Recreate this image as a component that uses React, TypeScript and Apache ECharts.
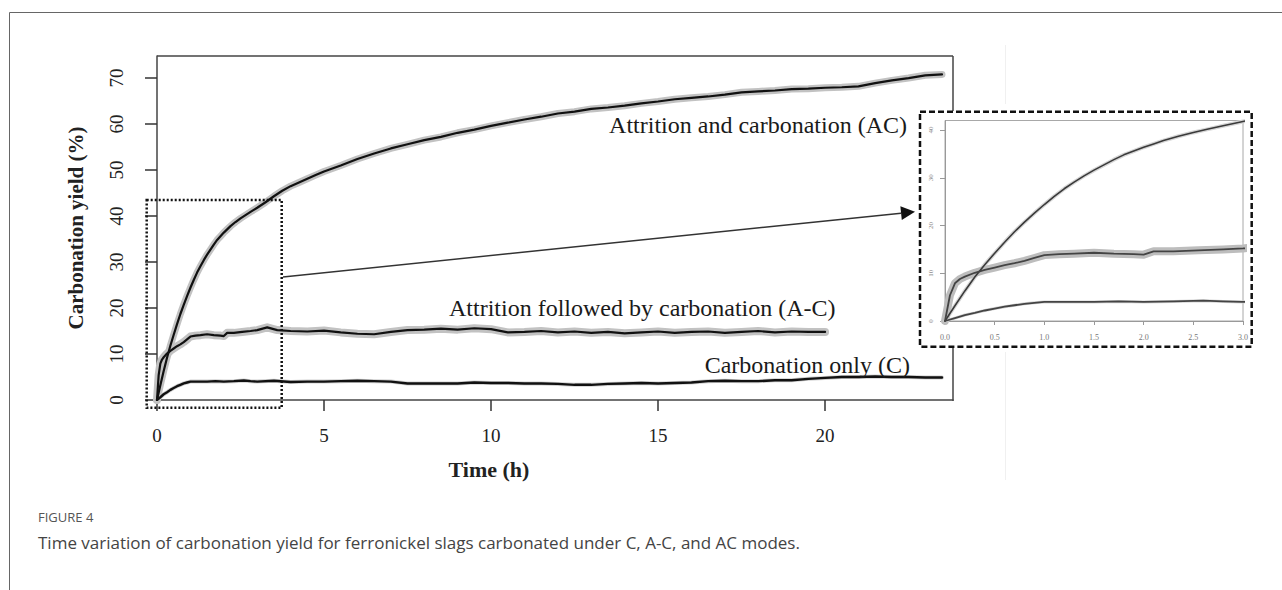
import React, { useEffect, useRef } from "react";
import * as echarts from "echarts";

// ---- Data ----
const acTime = [0, 0.1, 0.2, 0.3, 0.4, 0.5, 0.6, 0.7, 0.8, 0.9, 1.0, 1.1, 1.2, 1.3, 1.4, 1.5, 1.6, 1.7, 1.8, 1.9, 2.0, 2.1, 2.2, 2.35, 2.5, 2.65, 2.8, 3.0, 3.25, 3.5, 3.75, 4.0, 4.25, 4.5, 4.75, 5.0, 5.5, 6.0, 6.5, 7.0, 7.5, 8.0, 8.5, 9.0, 9.5, 10.0, 10.5, 11.0, 11.5, 12.0, 12.5, 13.0, 13.5, 14.0, 14.5, 15.0, 15.5, 16.0, 16.5, 17.0, 17.5, 18.0, 18.5, 19.0, 19.5, 20.0, 20.5, 21.0, 21.5, 22.0, 22.5, 23.0, 23.5];
const acYield = [0, 3.2, 6.3, 9.2, 11.8, 14.2, 16.5, 18.7, 20.7, 22.6, 24.4, 26.1, 27.7, 29.1, 30.4, 31.6, 32.7, 33.8, 34.8, 35.6, 36.4, 37.1, 37.8, 38.7, 39.5, 40.2, 40.9, 41.8, 43.0, 44.3, 45.5, 46.5, 47.3, 48.1, 48.9, 49.7, 51.0, 52.4, 53.6, 54.7, 55.6, 56.5, 57.2, 58.1, 58.8, 59.6, 60.3, 61.0, 61.6, 62.3, 62.7, 63.3, 63.6, 64.0, 64.5, 64.9, 65.4, 65.7, 66.0, 66.4, 66.9, 67.1, 67.3, 67.6, 67.7, 67.9, 68.0, 68.2, 68.9, 69.5, 70.0, 70.6, 70.8];

const acThenTime = [0, 0.05, 0.1, 0.15, 0.2, 0.3, 0.4, 0.5, 0.6, 0.7, 0.8, 0.9, 1.0, 1.15, 1.3, 1.5, 1.7, 1.9, 2.0, 2.1, 2.3, 2.55, 2.8, 3.0, 3.3, 3.6, 4.0, 4.5, 5.0, 5.5, 6.0, 6.5, 7.0, 7.5, 8.0, 8.5, 9.0, 9.5, 10.0, 10.5, 11.0, 11.5, 12.0, 12.5, 13.0, 13.5, 14.0, 14.5, 15.0, 15.5, 16.0, 16.5, 17.0, 17.5, 18.0, 18.5, 19.0, 19.5, 20.0];
const acThenYield = [0, 5.4, 7.9, 8.8, 9.3, 10.1, 10.7, 11.2, 11.7, 12.1, 12.6, 13.2, 13.8, 14.0, 14.1, 14.3, 14.1, 14.0, 13.9, 14.6, 14.6, 14.8, 15.0, 15.2, 15.8, 15.2, 15.0, 14.9, 15.1, 14.7, 14.4, 14.3, 14.8, 15.2, 15.3, 15.5, 15.3, 15.6, 15.4, 14.7, 14.8, 15.0, 14.7, 14.9, 14.6, 14.8, 14.5, 14.7, 14.9, 14.6, 14.8, 14.9, 14.6, 14.8, 15.0, 14.7, 14.9, 14.8, 14.8];

const cTime = [0, 0.1, 0.2, 0.3, 0.4, 0.5, 0.6, 0.7, 0.8, 0.9, 1.0, 1.25, 1.5, 1.75, 2.0, 2.3, 2.6, 2.8, 3.0, 3.5, 4.0, 4.5, 5.0, 5.5, 6.0, 6.5, 7.0, 7.5, 8.0, 8.5, 9.0, 9.5, 10.0, 10.5, 11.0, 11.5, 12.0, 12.5, 13.0, 13.5, 14.0, 14.5, 15.0, 15.5, 16.0, 16.5, 17.0, 17.5, 18.0, 18.5, 19.0, 19.5, 20.0, 20.5, 21.0, 21.5, 22.0, 22.5, 23.0, 23.5];
const cYield = [0, 0.6, 1.25, 1.7, 2.2, 2.6, 3.0, 3.3, 3.6, 3.8, 4.0, 4.0, 4.0, 4.1, 4.0, 4.1, 4.25, 4.1, 4.0, 4.2, 3.9, 4.0, 4.0, 4.1, 4.2, 4.1, 4.0, 3.6, 3.6, 3.6, 3.6, 3.8, 3.7, 3.7, 3.6, 3.6, 3.5, 3.3, 3.3, 3.5, 3.6, 3.7, 3.6, 3.7, 3.8, 4.1, 4.2, 4.1, 4.1, 4.3, 4.3, 4.6, 4.8, 5.0, 5.0, 5.1, 5.0, 5.0, 4.9, 4.9];

const mainXTicks = [0, 5, 10, 15, 20];
const mainYTicks = [0, 10, 20, 30, 40, 50, 60, 70];
const insetXTicks = [0, 0.5, 1.0, 1.5, 2.0, 2.5, 3.0];
const insetYTicks = [0, 10, 20, 30, 40];

const seriesLabels = ["Attrition and carbonation (AC)", "Attrition followed by carbonation (A-C)", "Carbonation only (C)"];
const xTitle = "Time (h)";
const yTitle = "Carbonation yield (%)";
const figureLabel = "FIGURE 4";
const captionText = "Time variation of carbonation yield for ferronickel slags carbonated under C, A-C, and AC modes.";

const pairs = (t: number[], v: number[]) => t.map((x, i) => [x, v[i]]);

export default function App() {
  const ref = useRef<HTMLDivElement>(null);
  useEffect(() => {
    if (!ref.current) return;
    const chart = echarts.init(ref.current, null, { renderer: "svg" });
    const serif = "'Liberation Serif', 'Times New Roman', serif";
    const sans = "'Open Sans', 'Noto Sans', sans-serif";
    const ac = pairs(acTime, acYield);
    const act = pairs(acThenTime, acThenYield);
    const c = pairs(cTime, cYield);

    const line = (data: number[][], g: number, color: string, width: number, z: number) => ({
      type: "line",
      data,
      xAxisIndex: g,
      yAxisIndex: g,
      symbol: "none",
      showSymbol: false,
      silent: true,
      clip: true,
      z,
      lineStyle: { color, width, join: "round", cap: "round" },
    });

    const arrowStart = [283, 277];
    const tip = [915, 211.7];
    const dx = tip[0] - arrowStart[0];
    const dy = tip[1] - arrowStart[1];
    const len = Math.sqrt(dx * dx + dy * dy);
    const ux = dx / len, uy = dy / len;
    const hl = 14, hw = 7;
    const bx = tip[0] - ux * hl, by = tip[1] - uy * hl;

    chart.setOption({
      animation: false,
      backgroundColor: "#ffffff",
      grid: [
        { left: 157, top: 56, width: 796, height: 344, show: false },
        { left: 945, top: 120.5, width: 298, height: 200.5, show: true, borderColor: "#a8a8a8", borderWidth: 1, backgroundColor: "transparent" },
      ],
      xAxis: [
        {
          type: "value", gridIndex: 0, min: 0, max: 23.83,
          axisLine: { show: true, lineStyle: { color: "#444", width: 1.5 } },
          axisTick: { show: true, inside: false, length: 11, customValues: mainXTicks, lineStyle: { color: "#333", width: 1.5 } },
          axisLabel: { customValues: mainXTicks, margin: 26, fontFamily: serif, fontSize: 19, color: "#222" },
          splitLine: { show: false },
          name: xTitle, nameLocation: "middle", nameGap: 58,
          nameTextStyle: { fontFamily: serif, fontSize: 22, fontWeight: "bold", color: "#222", padding: [0, 132, 0, 0] },
        },
        {
          type: "value", gridIndex: 1, min: 0, max: 3,
          axisLine: { show: true, lineStyle: { color: "#999", width: 1 } },
          axisTick: { show: true, inside: false, length: 4, customValues: insetXTicks, lineStyle: { color: "#999", width: 1 } },
          axisLabel: { customValues: insetXTicks, margin: 12, fontFamily: serif, fontSize: 8, color: "#777", formatter: (v: number) => v.toFixed(1) },
          splitLine: { show: false },
        },
      ],
      yAxis: [
        {
          type: "value", gridIndex: 0, min: 0, max: 74.8,
          axisLine: { show: true, lineStyle: { color: "#444", width: 1.5 } },
          axisTick: { show: true, inside: false, length: 12, customValues: mainYTicks, lineStyle: { color: "#333", width: 1.5 } },
          axisLabel: { customValues: mainYTicks, rotate: 90, margin: 31, fontFamily: serif, fontSize: 19, color: "#222" },
          splitLine: { show: false },
          name: yTitle, nameLocation: "middle", nameGap: 71, nameRotate: 90,
          nameTextStyle: { fontFamily: serif, fontSize: 21, fontWeight: "bold", color: "#222" },
        },
        {
          type: "value", gridIndex: 1, min: 0, max: 42,
          axisLine: { show: true, lineStyle: { color: "#999", width: 1 } },
          axisTick: { show: true, inside: false, length: 5, customValues: insetYTicks, lineStyle: { color: "#999", width: 1 } },
          axisLabel: { customValues: insetYTicks, rotate: 90, margin: 11, fontFamily: serif, fontSize: 7, color: "#888" },
          splitLine: { show: false },
        },
      ],
      series: [
        line(ac, 0, "#c2c2c2", 7, 2),
        line(act, 0, "#c2c2c2", 8, 2),
        line(c, 0, "#d0d0d0", 4, 2),
        line(ac, 0, "#111111", 2.2, 3),
        line(act, 0, "#111111", 2.2, 3),
        line(c, 0, "#111111", 2.4, 3),
        line(ac, 1, "#d6d6d6", 4, 2),
        line(act, 1, "#bdbdbd", 8, 2),
        line(c, 1, "#d4d4d4", 3, 2),
        line(ac, 1, "#3a3a3a", 1.6, 3),
        line(act, 1, "#444444", 1.8, 3),
        line(c, 1, "#444444", 1.8, 3),
      ],
      graphic: [
        // outer figure frame
        { type: "polyline", silent: true, shape: { points: [[9.5, 590], [9.5, 12.5], [1282, 12.5]] }, style: { stroke: "#666", lineWidth: 1, fill: "none" } },
        // faint scan artifacts
        { type: "line", silent: true, shape: { x1: 1005.5, y1: 45, x2: 1005.5, y2: 104 }, style: { stroke: "#f0f0f0", lineWidth: 1 } },
        { type: "line", silent: true, shape: { x1: 1005.5, y1: 352, x2: 1005.5, y2: 480 }, style: { stroke: "#f0f0f0", lineWidth: 1 } },
        // main box top and right edges
        { type: "line", silent: true, shape: { x1: 157, y1: 56, x2: 953, y2: 56 }, style: { stroke: "#444", lineWidth: 1.5 } },
        { type: "line", silent: true, shape: { x1: 953, y1: 56, x2: 953, y2: 111 }, style: { stroke: "#444", lineWidth: 1.5 } },
        { type: "line", silent: true, shape: { x1: 953, y1: 347, x2: 953, y2: 401 }, style: { stroke: "#444", lineWidth: 1.5 } },
        // dotted zoom rectangle
        { type: "rect", silent: true, shape: { x: 146.7, y: 200, width: 135, height: 207.7 }, style: { fill: "none", stroke: "#111", lineWidth: 2.5, lineDash: [2, 2] }, z: 5 },
        // dashed inset frame
        { type: "rect", silent: true, shape: { x: 920, y: 111.7, width: 331.7, height: 235 }, style: { fill: "none", stroke: "#111", lineWidth: 2.5, lineDash: [6, 3] }, z: 5 },
        // arrow
        { type: "line", silent: true, shape: { x1: arrowStart[0], y1: arrowStart[1], x2: bx, y2: by }, style: { stroke: "#333", lineWidth: 1.5 }, z: 5 },
        { type: "polygon", silent: true, shape: { points: [[tip[0], tip[1]], [bx - uy * hw, by + ux * hw], [bx + uy * hw, by - ux * hw]] }, style: { fill: "#111" }, z: 5 },
        // series annotations
        { type: "text", silent: true, x: 907, y: 125, style: { text: seriesLabels[0], fontFamily: serif, fontSize: 24, fill: "#1a1a1a", align: "right", verticalAlign: "middle" }, z: 6 },
        { type: "text", silent: true, x: 449, y: 308, style: { text: seriesLabels[1], fontFamily: serif, fontSize: 24, fill: "#1a1a1a", align: "left", verticalAlign: "middle" }, z: 6 },
        { type: "text", silent: true, x: 910, y: 365, style: { text: seriesLabels[2], fontFamily: serif, fontSize: 24, fill: "#1a1a1a", align: "right", verticalAlign: "middle" }, z: 6 },
        // caption
        { type: "text", silent: true, x: 38, y: 517, style: { text: figureLabel, fontFamily: sans, fontSize: 13, fill: "#555", align: "left", verticalAlign: "middle" } },
        { type: "text", silent: true, x: 38, y: 542, style: { text: captionText, fontFamily: sans, fontSize: 17, fill: "#444", align: "left", verticalAlign: "middle" } },
      ],
    });
    return () => chart.dispose();
  }, []);
  return <div ref={ref} style={{ position: "fixed", left: 0, top: 0, width: 1282, height: 590, background: "#fff" }} />;
}
